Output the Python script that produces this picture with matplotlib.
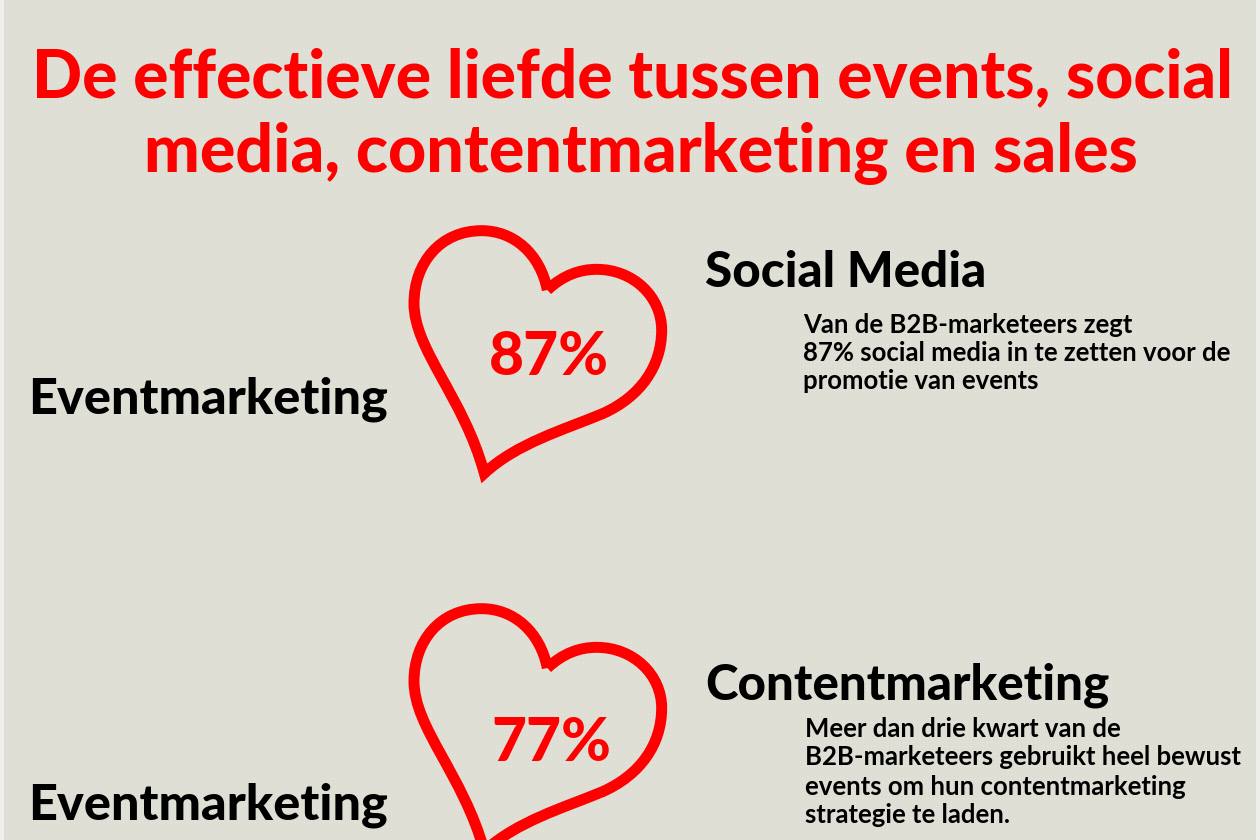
import matplotlib
matplotlib.use("Agg")
import matplotlib.pyplot as plt
import numpy as np
from matplotlib.patches import PathPatch, Rectangle
from matplotlib.path import Path

TITLE_LINES = ["De effectieve liefde tussen events, social",
               "media, contentmarketing en sales"]
SOURCE_LABEL = "Eventmarketing"
TARGETS = ["Social Media", "Contentmarketing"]
PERCENTS = [87, 77]
BODIES = [
    ["Van de B2B-marketeers zegt",
     "87% social media in te zetten voor de",
     "promotie van events"],
    ["Meer dan drie kwart van de",
     "B2B-marketeers gebruikt heel bewust",
     "events om hun contentmarketing",
     "strategie te laden."],
]

RED = "#fe0000"
BG = "#e0dfd6"
FONT = ["Lato", "Roboto", "DejaVu Sans"]

# heart outline (px relative to the first heart's crop)
HEART = [(472, 240),
         (450, 130), (370, 62), (275, 62),
         (150, 62), (72, 160), (72, 280),
         (72, 420), (220, 560), (283, 790),
         (380, 700), (520, 660), (640, 610),
         (750, 560), (815, 470), (815, 360),
         (815, 260), (730, 178), (620, 178),
         (570, 178), (520, 195), (472, 240)]


def draw_heart(ax, dy):
    pts = np.array(HEART, dtype=float) / 3 + [390, 210 + dy]
    codes = [Path.MOVETO] + [Path.CURVE4] * (len(pts) - 1)
    ax.add_patch(PathPatch(Path(pts, codes), fc="none", ec=RED, lw=7.9,
                           joinstyle="miter", capstyle="butt", zorder=3))


fig = plt.figure(figsize=(12.6, 8.4), dpi=100, facecolor=BG)
ax = fig.add_axes([0, 0, 1, 1])
ax.set_xlim(0, 1260)
ax.set_ylim(840, 0)
ax.axis("off")

# linen texture
ax.vlines(np.arange(5, 1260, 4), 0, 840, color="#d6d5cc", lw=0.6, alpha=0.3, zorder=1)
ax.hlines(np.arange(2, 840, 4), 0, 1260, color="#eae9e1", lw=0.6, alpha=0.3, zorder=1)
ax.add_patch(Rectangle((0, 0), 4, 840, fc="#eeeeea", ec="none", zorder=2))
ax.add_patch(Rectangle((1256, 0), 4, 840, fc="#eeeeea", ec="none", zorder=2))

ax.text(632, 97, TITLE_LINES[0], color=RED, family=FONT, weight="black",
        fontsize=47.4, ha="center", va="baseline", zorder=4)
ax.text(641, 172, TITLE_LINES[1], color=RED, family=FONT, weight="black",
        fontsize=47.7, ha="center", va="baseline", zorder=4)

DYS = [0, 378]
SOURCE_Y = [414, 819]
TARGET_Y = [287, 699]
PCT_Y = [375, 761]
PCT_X = [548.5, 551.5]
BODY_X = [803, 805]
BODY_Y = [[333, 361, 389], [737, 765, 795, 823]]

for i in range(2):
    draw_heart(ax, DYS[i])
    ax.text(28, SOURCE_Y[i], SOURCE_LABEL, color="black", family=FONT,
            weight="black", fontsize=36.3, va="baseline", zorder=4)
    ax.text(705, TARGET_Y[i], TARGETS[i], color="black", family=FONT,
            weight="black", fontsize=35.5, va="baseline", zorder=4)
    ax.text(PCT_X[i], PCT_Y[i], f"{PERCENTS[i]}%", color=RED, family=FONT,
            weight="black", fontsize=43.5, ha="center", va="baseline", zorder=4)
    for line, y in zip(BODIES[i], BODY_Y[i]):
        ax.text(BODY_X[i], y, line, color="black", family=FONT, weight="bold",
                fontsize=18.5, va="baseline", zorder=4)

fig.savefig("out.png", dpi=100)
